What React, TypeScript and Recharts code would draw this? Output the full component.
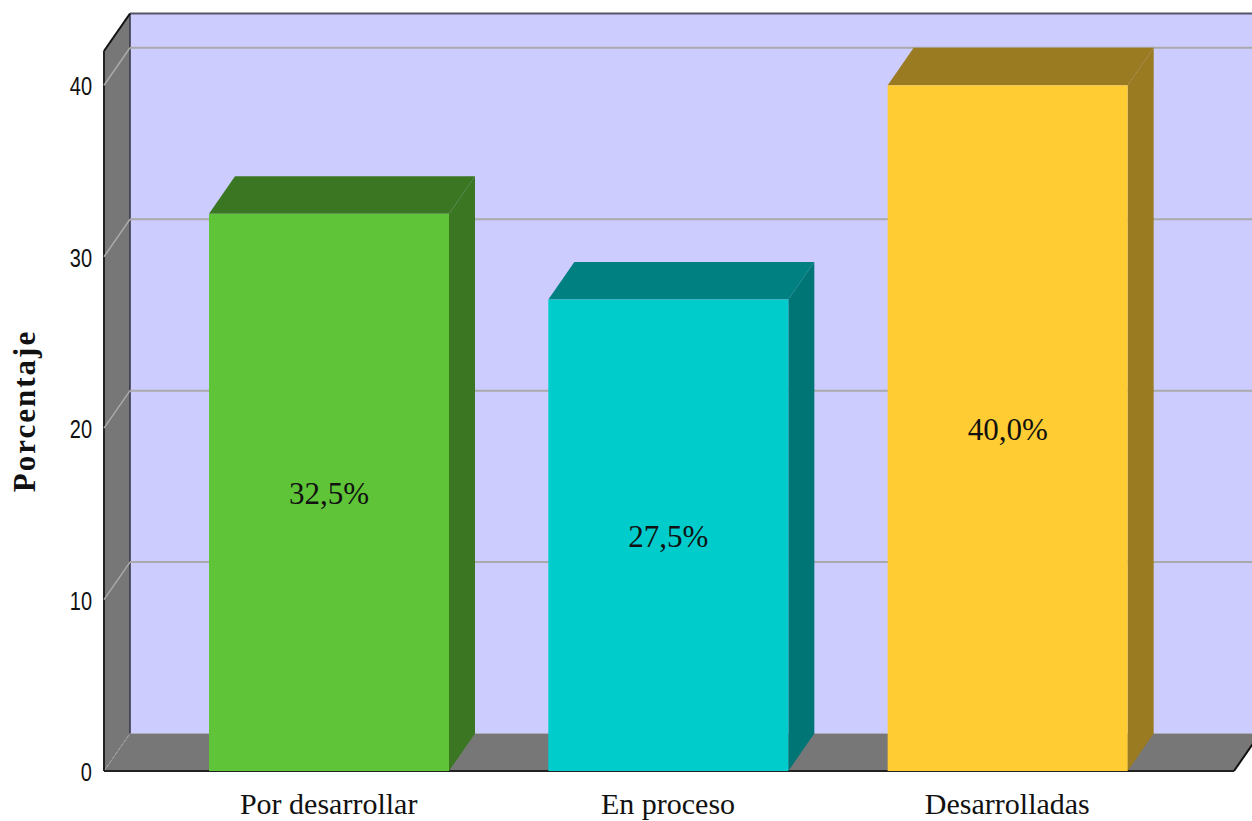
import React from 'react'
import { BarChart, Bar, XAxis, YAxis, Cell, LabelList, ReferenceArea, ReferenceLine } from 'recharts'

const categories = ['Por desarrollar', 'En proceso', 'Desarrolladas']
const percentages = [32.5, 27.5, 40.0]
const yTicks = [0, 10, 20, 30, 40]
const gridValues = [10, 20, 30, 40]
const yMax = 42

const frontColors = ['#5FC437', '#00CCCC', '#FFCC33']
const topColors = ['#3B7722', '#008080', '#9B7B21']
const sideColors = ['#3B7722', '#007575', '#9B7B21']

const DX = 26
const DY = 37.5
const PAD_LEFT = 55
const PAD_RIGHT = 57

const data = categories.map((name, i) => ({ name, value: percentages[i] }))

// the reference area spans the padded band range, so widen it back to the plot edges
const Walls = ({ x: bandX, y, width: bandWidth, height }: any) => {
  const x = bandX - PAD_LEFT
  const width = bandWidth + PAD_LEFT + PAD_RIGHT
  const bottom = y + height
  const right = x + width
  return (
    <g>
      <rect x={x + DX} y={y - DY} width={width} height={height} fill="#CCCCFF" />
      <polygon points={`${x},${y} ${x + DX},${y - DY} ${x + DX},${bottom - DY} ${x},${bottom}`} fill="#777777" />
      <polygon points={`${x},${bottom} ${x + DX},${bottom - DY} ${right + DX},${bottom - DY} ${right},${bottom}`} fill="#777777" />
      <line x1={x} y1={bottom} x2={x + DX} y2={bottom - DY} stroke="#AAAAAA" strokeDasharray="3 2" />
      <line x1={x + DX} y1={y - DY} x2={x + DX} y2={bottom - DY} stroke="#333344" strokeWidth={1.5} />
      <line x1={x + DX} y1={y - DY} x2={right + DX} y2={y - DY} stroke="#555566" strokeWidth={2} />
      <line x1={x} y1={y} x2={x + DX} y2={y - DY} stroke="#111111" strokeWidth={2} />
      <line x1={x} y1={y} x2={x} y2={bottom} stroke="#222222" strokeWidth={2} />
      <line x1={x} y1={bottom} x2={right} y2={bottom} stroke="#222222" strokeWidth={2} />
      <line x1={right} y1={bottom} x2={right + DX} y2={bottom - DY} stroke="#111111" strokeWidth={2} />
    </g>
  )
}

const GridLine = ({ x1, y1, x2, y2 }: any) => (
  <g>
    <line x1={x1} y1={y1} x2={x1 + DX} y2={y1 - DY} stroke="#AAAAAA" strokeWidth={1.5} />
    <line x1={x1 + DX} y1={y1 - DY} x2={x2 + DX} y2={y2 - DY} stroke="#AAAAAA" strokeWidth={2} />
  </g>
)

const Bar3D = ({ x, y, width, height, index }: any) => {
  const right = x + width
  const bottom = y + height
  return (
    <g>
      <polygon points={`${x},${y} ${x + DX},${y - DY} ${right + DX},${y - DY} ${right},${y}`} fill={topColors[index]} />
      <polygon points={`${right},${y} ${right + DX},${y - DY} ${right + DX},${bottom - DY} ${right},${bottom}`} fill={sideColors[index]} />
      <rect x={x} y={y} width={width} height={height} fill={frontColors[index]} />
    </g>
  )
}

// tick digits in the reference are tall and narrow
const NarrowTick = ({ x, y, payload }: any) => (
  <text
    transform={`translate(${x},${y}) scale(0.8,1)`}
    textAnchor="end"
    dy={10}
    fontFamily="Liberation Sans"
    fontSize={25}
    fill="#111"
  >
    {payload.value}
  </text>
)

export default function App() {
  return (
    <div style={{ position: 'absolute', left: 0, top: 0, width: 1252, height: 821, overflow: 'hidden', background: '#fff' }}>
      <BarChart width={1252} height={821} data={data} barSize={240} margin={{ top: 51, right: 18, bottom: 0, left: 0 }}>
        <ReferenceArea y1={0} y2={yMax} shape={<Walls />} ifOverflow="visible" zIndex={-20} />
        {gridValues.map((v) => (
          <ReferenceLine key={v} y={v} shape={<GridLine />} ifOverflow="visible" zIndex={-10} />
        ))}
        <XAxis
          dataKey="name"
          height={50}
          axisLine={false}
          tickLine={false}
          padding={{ left: PAD_LEFT, right: PAD_RIGHT }}
          tick={{ fontFamily: 'Liberation Serif', fontSize: 30, fill: '#111' }}
          tickMargin={16}
          interval={0}
        />
        <YAxis
          width={104}
          domain={[0, yMax]}
          ticks={yTicks}
          axisLine={false}
          tickLine={false}
          tick={<NarrowTick />}
          tickMargin={6}
          label={{
            value: 'Porcentaje',
            angle: -90,
            position: 'insideLeft',
            offset: 24,
            style: { fontFamily: 'Liberation Serif', fontWeight: 'bold', fontSize: 31, letterSpacing: 2, fill: '#111', textAnchor: 'middle' },
          }}
        />
        <Bar dataKey="value" shape={<Bar3D />} isAnimationActive={false}>
          {data.map((d, i) => (
            <Cell key={d.name} fill={frontColors[i]} />
          ))}
          <LabelList
            dataKey="value"
            position="center"
            dy={1}
            formatter={(v: any) => `${Number(v).toFixed(1).replace('.', ',')}%`}
            style={{ fontFamily: 'Liberation Serif', fontSize: 31, fill: '#111' }}
          />
        </Bar>
      </BarChart>
    </div>
  )
}
